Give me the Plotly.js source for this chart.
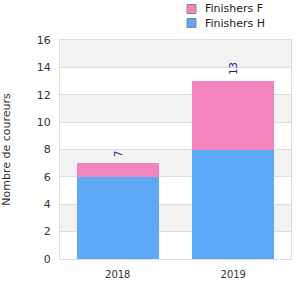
<!DOCTYPE html>
<html><head><meta charset="utf-8">
<script src="https://cdn.plot.ly/plotly-3.0.1.min.js"></script>
<style>html,body{margin:0;padding:0;background:#fff}#c{width:300px;height:300px}</style>
</head><body><div id="c"></div>
<script>
const years = ['2018', '2019'];
const seriesNames = ['Finishers H', 'Finishers F'];
const seriesColors = ['#5ea9f5', '#f285bb'];
const finishersH = [6, 8];
const finishersF = [1, 5];
const totals = [7, 13];
const yTicks = [0, 2, 4, 6, 8, 10, 12, 14, 16];

const ff = 'DejaVu Sans, sans-serif';
const shapes = [];
for (let v = 2; v < 16; v += 4) {
  shapes.push({type: 'rect', xref: 'paper', yref: 'y', x0: 0, x1: 1, y0: v, y1: v + 2,
    fillcolor: '#f2f2f2', line: {width: 0}, layer: 'below'});
}
const data = [
  {type: 'bar', name: seriesNames[0], x: years, y: finishersH, marker: {color: seriesColors[0]}},
  {type: 'bar', name: seriesNames[1], x: years, y: finishersF, marker: {color: seriesColors[1]}}
];
const annotations = years.map((yr, i) => ({
  x: i, y: totals[i], xref: 'x', yref: 'y', text: String(totals[i]), showarrow: false,
  textangle: -90, yanchor: 'bottom', yshift: 4, font: {family: ff, size: 10, color: '#1a1a9c'}
}));
// custom legend (F on top, H below), in pixel-based paper coordinates
const W = 300 - 60 - 9, H = 300 - 40 - 41;
const px = x => (x - 60) / W, py = y => (300 - 41 - y) / H;
[1, 0].forEach((s, k) => {
  const cy = 9 + k * 14;
  shapes.push({type: 'rect', xref: 'paper', yref: 'paper', x0: px(187), x1: px(196), y0: py(cy + 4.5), y1: py(cy - 4.5),
    fillcolor: seriesColors[s], line: {color: '#888', width: 1}});
  annotations.push({xref: 'paper', yref: 'paper', x: px(203), y: py(cy), xanchor: 'left', yanchor: 'middle',
    text: seriesNames[s], showarrow: false, font: {family: ff, size: 11, color: '#222'}});
});
const layout = {
  width: 300, height: 300,
  margin: {l: 60, r: 9, t: 40, b: 41},
  barmode: 'stack', bargap: 0.29,
  paper_bgcolor: '#fff', plot_bgcolor: '#fff',
  font: {family: ff, size: 10, color: '#333'},
  showlegend: false,
  xaxis: {type: 'category', range: [-0.5, 1.5], showgrid: false, showline: true, linecolor: '#ddd', mirror: true,
    ticks: '', ticklabelstandoff: 6, tickfont: {family: ff, size: 10, color: '#333'}},
  yaxis: {range: [0, 16], tickvals: yTicks, showgrid: true, gridcolor: '#ddd', showline: true,
    linecolor: '#ddd', mirror: true, zeroline: false, ticks: '', ticklabelstandoff: 6,
    tickfont: {family: ff, size: 11, color: '#333'},
    title: {text: 'Nombre de coureurs', standoff: 26, font: {family: ff, size: 11, color: '#333'}}},
  shapes: shapes,
  annotations: annotations
};
Plotly.newPlot('c', data, layout, {displayModeBar: false, staticPlot: true});
</script></body></html>
